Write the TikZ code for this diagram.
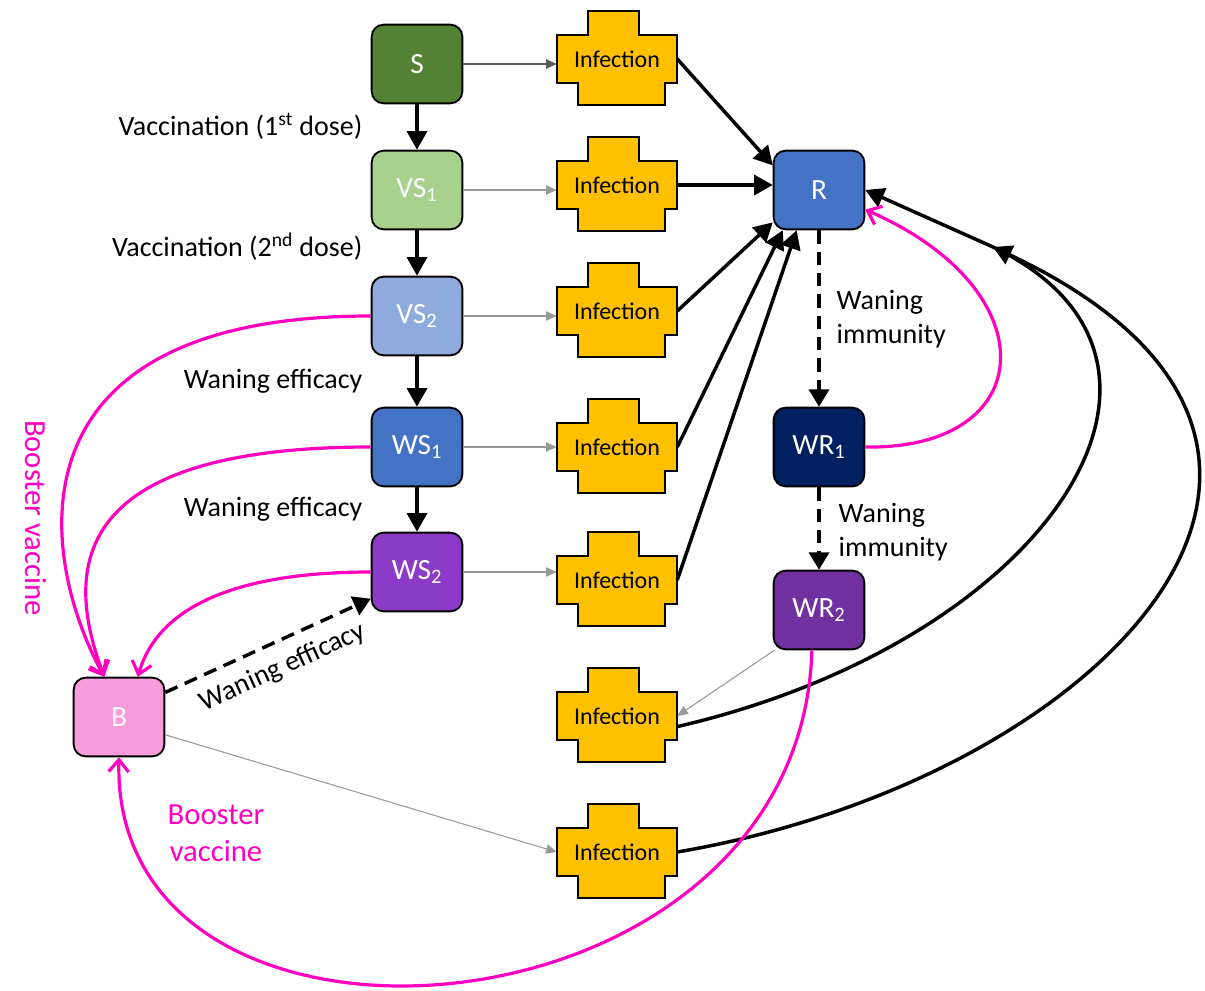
\documentclass[tikz,border=0pt]{standalone}
\usepackage{fontspec}
\setmainfont{Carlito}
\usetikzlibrary{arrows.meta,calc}
\definecolor{cS}{HTML}{548235}
\definecolor{cVSa}{HTML}{A9D18E}
\definecolor{cVSb}{HTML}{8FAADC}
\definecolor{cWSa}{HTML}{4472C4}
\definecolor{cWSb}{HTML}{8B3BC8}
\definecolor{cR}{HTML}{4472C4}
\definecolor{cWRa}{HTML}{002060}
\definecolor{cWRb}{HTML}{7030A0}
\definecolor{cB}{HTML}{F99BDD}
\definecolor{cInf}{HTML}{FFC000}
\definecolor{mag}{HTML}{FF00C0}
\newcommand\infect[3]{%
  \filldraw[fill=cInf, draw=black, line width=1.4pt] (#2,#3) ++(-29,-48) -- ++(51,0) -- ++(0,24) -- ++(38,0) -- ++(0,48) -- ++(-12,0) -- ++(0,22) -- ++(-87,0) -- ++(0,-22) -- ++(-21,0) -- ++(0,-48) -- ++(31,0) -- cycle;
  \node[infbox] (#1) at (#2,#3) {Infection};
}
\begin{document}
\begin{tikzpicture}[x=0.75pt, y=-0.75pt,
  mybox/.style={draw=black, line width=1.4pt, rounded corners=9pt, minimum width=68pt, minimum height=59pt, inner sep=0pt, text=white, font=\fontsize{22}{24}\selectfont},
  infbox/.style={minimum width=90pt, minimum height=36pt, inner sep=0pt, font=\fontsize{18}{20}\selectfont},
  lbl/.style={font=\fontsize{21}{25.5}\selectfont},
  maglbl/.style={text=mag, font=\fontsize{23}{28}\selectfont},
  blackarrow/.style={line width=2.6pt, -{Triangle[length=14pt,width=15pt]}},
  dasharrow/.style={line width=2.6pt, dash pattern=on 10pt off 6pt, -{Triangle[length=13pt,width=15pt]}},
  grayarrow/.style={line width=0.8pt, draw=black!40, -{Triangle[length=8pt,width=7pt]}},
  magarrow/.style={line width=2.4pt, draw=mag, -{Straight Barb[length=9pt,width=15pt]}}]
\useasboundingbox (0,0) rectangle (1205,991);

% compartments
\node[mybox, fill=cS] (S) at (417,64) {S};
\node[mybox, fill=cVSa] (VS1) at (417,190) {VS\textsubscript{1}};
\node[mybox, fill=cVSb] (VS2) at (417,316) {VS\textsubscript{2}};
\node[mybox, fill=cWSa] (WS1) at (417,447) {WS\textsubscript{1}};
\node[mybox, fill=cWSb] (WS2) at (417,572) {WS\textsubscript{2}};
\node[mybox, fill=cR] (R) at (819,190) {R};
\node[mybox, fill=cWRa] (WR1) at (819,447) {WR\textsubscript{1}};
\node[mybox, fill=cWRb] (WR2) at (819,610) {WR\textsubscript{2}};
\node[mybox, fill=cB] (B) at (119,717) {B};

% infection boxes
\infect{I1}{617}{59}
\infect{I2}{617}{185}
\infect{I3}{617}{311}
\infect{I4}{617}{447}
\infect{I5}{617}{580}
\infect{I6}{617}{716}
\infect{I7}{617}{852}

% labels
\node[lbl, anchor=east] (l1) at (367,126) {Vaccination (1\textsuperscript{st} dose)};
\node[lbl, anchor=east] (l2) at (367,247) {Vaccination (2\textsuperscript{nd} dose)};
\node[lbl, anchor=east] (l3) at (367,381) {Waning efficacy};
\node[lbl, anchor=east] (l4) at (367,509) {Waning efficacy};
\node[lbl, anchor=west, align=left] (l5) at (832,319) {Waning\\immunity};
\node[lbl, anchor=west, align=left] (l6) at (834,532) {Waning\\immunity};
\node[maglbl, rotate=-90] (l7) at (36,518) {Booster vaccine};
\node[maglbl, align=center] (l8) at (216,833) {Booster\\vaccine};

% vertical progression
\draw[blackarrow] (S) -- (VS1);
\draw[blackarrow] (VS1) -- (VS2);
\draw[blackarrow] (VS2) -- (WS1);
\draw[blackarrow] (WS1) -- (WS2);
\draw[dasharrow] (R) -- (WR1);
\draw[dasharrow] (WR1) -- (WR2);
\draw[dasharrow] (B.28) -- (WS2.-150) node[lbl, pos=0.52, below=6pt, sloped] (l9) {Waning efficacy};

% to infection
\draw[grayarrow, draw=black!65] (S.east) -- (S.east -| I1.west);
\draw[grayarrow] (VS1.east) -- (VS1.east -| I2.west);
\draw[grayarrow] (VS2.east) -- (VS2.east -| I3.west);
\draw[grayarrow] (WS1.east) -- (WS1.east -| I4.west);
\draw[grayarrow] (WS2.east) -- (WS2.east -| I5.west);
\draw[grayarrow] (WR2.-138) -- (I6.east);
\draw[grayarrow] (B.-21) -- (I7.west);

% infection to R
\draw[blackarrow] (I1.east) -- (R.152);
\draw[blackarrow] (I2.east) -- (I2.east -| R.west);
\draw[blackarrow] (I3.east) -- (R.-145);
\draw[blackarrow] (I4.east) -- (R.-132);
\draw[blackarrow] (I5.east) -- (R.-119);
\coordinate (m) at (993,247);
\draw[blackarrow] (I6.-10) .. controls (1050,640) and (1230,360) .. (m) -- (R.east);
\draw[blackarrow] (I7.east) .. controls (1100,780) and (1420,448) .. (m);

% booster
\draw[magarrow] (VS2.west) .. controls (0,316) and (40,560) .. (B.110);
\draw[magarrow] (WS1.west) .. controls (80,447) and (60,560) .. (B.110);
\draw[magarrow] (WS2.west) .. controls (250,572) and (160,600) .. (B.65);
\draw[magarrow] (WR1.east) .. controls (1040,450) and (1050,290) .. (R.-23);
\draw[magarrow] (WR2.-100) .. controls (800,1050) and (110,1100) .. (B.south);
\end{tikzpicture}
\end{document}
